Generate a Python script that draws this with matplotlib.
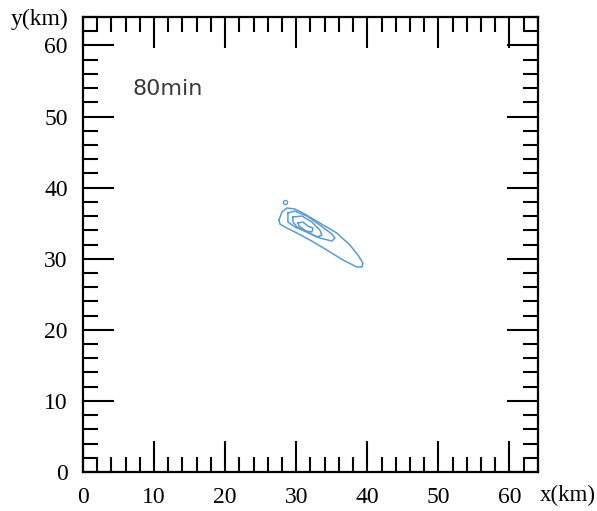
import matplotlib
matplotlib.use('Agg')
import matplotlib.pyplot as plt
from matplotlib.ticker import MultipleLocator

# contour rings (km)
outer_x = [27.57, 27.99, 28.69, 29.82, 30.94, 33.33, 35.72, 37.55, 38.68, 39.38, 39.24, 38.54,
           36.57, 34.32, 31.93, 30.10, 28.41, 27.71, 27.57]
outer_y = [35.44, 36.57, 37.13, 36.99, 36.43, 35.02, 33.61, 31.93, 30.52, 29.40, 28.83, 28.83,
           29.82, 31.22, 32.63, 33.61, 34.46, 34.88, 35.44]

mid_x = [28.83, 29.82, 31.50, 33.33, 35.02, 35.44, 35.02, 33.33, 31.50, 29.82, 28.83, 28.83]
mid_y = [36.43, 36.71, 36.01, 34.74, 33.47, 32.91, 32.49, 32.91, 33.76, 34.46, 35.16, 36.43]

in_x = [29.54, 30.80, 32.21, 33.33, 33.61, 32.91, 31.50, 30.10, 29.54, 29.54]
in_y = [35.86, 36.01, 35.16, 34.04, 33.33, 33.05, 33.76, 34.46, 35.16, 35.86]

core_x = [30.24, 30.94, 31.65, 32.35, 32.21, 31.36, 30.80, 30.38, 30.24]
core_y = [35.02, 35.16, 34.60, 34.32, 33.76, 33.90, 34.32, 34.60, 35.02]

dot_x = [28.41]
dot_y = [38.02]

xlim = [0, 64]
ylim = [0, 64]
ticks = [0, 10, 20, 30, 40, 50, 60]
minor = 2
label_time = '80min'

col = '#5b9bd5'

fig = plt.figure(figsize=(5.97, 5.11), dpi=100)
ax = fig.add_axes([0.139, 0.0763, 0.762, 0.8904])

for xs, ys in [(outer_x, outer_y), (mid_x, mid_y), (in_x, in_y), (core_x, core_y)]:
    ax.plot(xs, ys, color=col, lw=1.1, solid_joinstyle='round')
ax.plot(dot_x, dot_y, 'o', ms=3, mfc='none', mec=col, mew=1.0)

ax.set_xlim(xlim)
ax.set_ylim(ylim)
ax.set_xticks(ticks)
ax.set_yticks(ticks)
ax.xaxis.set_minor_locator(MultipleLocator(minor))
ax.yaxis.set_minor_locator(MultipleLocator(minor))
ax.tick_params(which='both', direction='in', top=True, right=True, width=1.5, color='black')
ax.tick_params(which='major', length=22, pad=11, labelsize=17)
ax.tick_params(which='minor', length=11)
for s in ax.spines.values():
    s.set_linewidth(1.6)
for lab in ax.get_xticklabels() + ax.get_yticklabels():
    lab.set_fontfamily('Liberation Serif')

fig.text(568/597, 1 - 495/511, 'x(km)', ha='center', va='center', fontsize=16.5, family='Liberation Serif')
fig.text(40/597, 1 - 19/511, 'y(km)', ha='center', va='center', fontsize=17, family='Liberation Serif')
fig.text(168/597, 1 - 89/511, label_time, ha='center', va='center',
         fontsize=16, color='#3a3a3a', family='DejaVu Sans')

fig.savefig('out.png', dpi=100)
